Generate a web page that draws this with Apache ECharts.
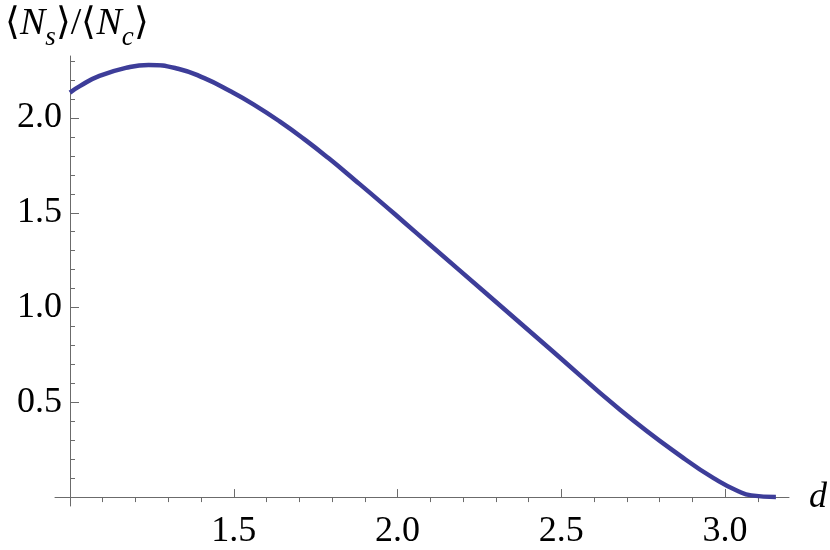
<!DOCTYPE html>
<html>
<head>
<meta charset="utf-8">
<script src="https://cdn.jsdelivr.net/npm/echarts@6/dist/echarts.min.js"></script>
<style>html,body{margin:0;padding:0;background:#fff}#c{width:830px;height:550px}</style>
</head>
<body>
<div id="c"></div>
<script>
// Curve samples
const dValues = [1.0, 1.03, 1.09, 1.18, 1.24, 1.33, 1.41, 1.49, 1.56, 1.64, 1.72, 1.79, 1.87, 1.95, 2.02, 2.10, 2.27, 2.47, 2.68, 2.88, 2.98, 3.04, 3.08, 3.155];
const ratioValues = [2.134, 2.168, 2.222, 2.268, 2.280, 2.260, 2.210, 2.141, 2.072, 1.982, 1.882, 1.787, 1.672, 1.555, 1.450, 1.330, 1.075, 0.775, 0.460, 0.197, 0.084, 0.031, 0.009, 0.0];

// Ticks
const xMajorTicks = [1.0, 1.5, 2.0, 2.5, 3.0];
const xLabels = [1.5, 2.0, 2.5, 3.0];
const xMinorTicks = [1.1, 1.2, 1.3, 1.4, 1.6, 1.7, 1.8, 1.9, 2.1, 2.2, 2.3, 2.4, 2.6, 2.7, 2.8, 2.9, 3.1];
const yMajorTicks = [0.5, 1.0, 1.5, 2.0];
const yLabels = [0.5, 1.0, 1.5, 2.0];
const yMinorTicks = [0.1, 0.2, 0.3, 0.4, 0.6, 0.7, 0.8, 0.9, 1.1, 1.2, 1.3, 1.4, 1.6, 1.7, 1.8, 1.9, 2.1, 2.2, 2.3];

const XMIN = 0.9543, XMAX = 3.195, YMIN = -0.047, YMAX = 2.327;
const AX = '#6b6b6b';
const FONT = 'Liberation Serif';

const chart = echarts.init(document.getElementById('c'), null, {renderer: 'canvas'});
const fmt = v => Number(v).toFixed(1);

chart.setOption({
  animation: false,
  backgroundColor: '#fff',
  title: {
    left: 0, top: 0,
    text: '{b|⟨}{n|N}{s|s}{b|⟩/⟨}{n|N}{s|c}{b|⟩}',
    textStyle: {
      fontWeight: 'normal', fontFamily: FONT,
      rich: {
        b: {fontFamily: FONT, fontWeight: 'normal', fontSize: 38, color: '#000', lineHeight: 46, verticalAlign: 'top'},
        n: {fontFamily: FONT, fontWeight: 'normal', fontSize: 38, fontStyle: 'italic', color: '#000', lineHeight: 46, verticalAlign: 'top'},
        s: {fontFamily: FONT, fontWeight: 'normal', fontSize: 27, fontStyle: 'italic', color: '#000', lineHeight: 27, verticalAlign: 'bottom'}
      }
    }
  },
  grid: {left: 55, right: 40, top: 56, bottom: 40, containLabel: false},
  xAxis: [{
    type: 'value', min: XMIN, max: XMAX,
    axisLine: {show: true, onZero: true, onZeroAxisIndex: 0, lineStyle: {color: AX, width: 1}},
    axisTick: {show: true, inside: true, length: 8, customValues: xMajorTicks, lineStyle: {color: AX}},
    axisLabel: {show: true, customValues: xLabels, formatter: fmt, margin: 8,
      fontFamily: FONT, fontWeight: 'normal', fontSize: 36, color: '#000'},
    splitLine: {show: false},
    name: 'd', nameLocation: 'end', nameGap: 20,
    nameTextStyle: {fontFamily: FONT, fontWeight: 'normal', fontSize: 36, fontStyle: 'italic', color: '#000', verticalAlign: 'middle'}
  }, {
    type: 'value', min: XMIN, max: XMAX,
    axisLine: {show: false, onZero: true, onZeroAxisIndex: 0},
    axisTick: {show: true, inside: true, length: 5, customValues: xMinorTicks, lineStyle: {color: AX}},
    axisLabel: {show: false},
    splitLine: {show: false}
  }],
  yAxis: [{
    type: 'value', min: YMIN, max: YMAX, position: 'left', offset: -15,
    axisLine: {show: true, onZero: false, lineStyle: {color: AX, width: 1}},
    axisTick: {show: true, inside: true, length: 9, customValues: yMajorTicks, lineStyle: {color: AX}},
    axisLabel: {show: true, customValues: yLabels, formatter: fmt, margin: 8,
      fontFamily: FONT, fontWeight: 'normal', fontSize: 36, color: '#000'},
    splitLine: {show: false}
  }, {
    type: 'value', min: YMIN, max: YMAX, position: 'left', offset: -15,
    axisLine: {show: false, onZero: false},
    axisTick: {show: true, inside: true, length: 5, customValues: yMinorTicks, lineStyle: {color: AX}},
    axisLabel: {show: false},
    splitLine: {show: false}
  }],
  series: [{
    type: 'line',
    xAxisIndex: 0, yAxisIndex: 0,
    data: dValues.map((d, i) => [d, ratioValues[i]]),
    smooth: 0.5,
    showSymbol: false,
    lineStyle: {color: '#3d3d99', width: 4.5},
    clip: false
  }]
});
</script>
</body>
</html>
